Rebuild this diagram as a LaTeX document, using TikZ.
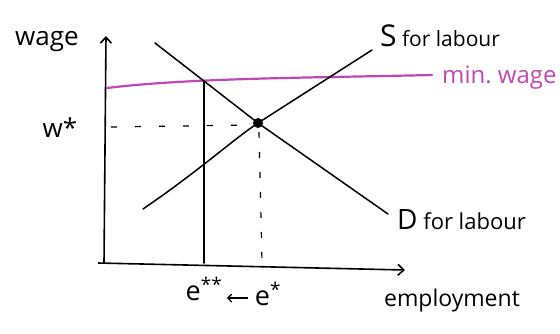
\documentclass[tikz,border=0pt]{standalone}
\usepackage{fontspec}
\setmainfont{Open Sans}
\usetikzlibrary{arrows.meta}
\definecolor{minw}{RGB}{192,72,182}
\tikzset{
  axis/.style={line width=1.6pt,-{Straight Barb[length=6pt,width=11pt,line width=1.6pt]}},
  curve/.style={line width=1.5pt,line cap=round},
  guide/.style={line width=1.2pt,dash pattern=on 6pt off 18pt},
  lbl/.style={font=\fontsize{24}{26}\selectfont, inner sep=0pt},
}
\begin{document}
\begin{tikzpicture}[x=1pt,y=-1pt]
\useasboundingbox (0,0) rectangle (560,333);
% coordinates
\coordinate (O) at (104,263);
\coordinate (Ytop) at (106,36);
\coordinate (Xleft) at (98,263);
\coordinate (Xright) at (405,270);
\coordinate (eq) at (258,123);
\coordinate (D1) at (155,43);
\coordinate (D2) at (388,214);
\coordinate (S1) at (143,209);
\coordinate (S2) at (372,50);
\coordinate (M1) at (107,88);
\coordinate (M2) at (432,75);
\coordinate (Emin) at (204,81);
\coordinate (Ebot) at (204,263);
\coordinate (Wl) at (111,127);
\coordinate (Wr) at (252,125);
\coordinate (Et) at (259,132);
\coordinate (Eb) at (262,262);
% axes
\draw[axis] (O) -- (Ytop);
\draw[axis] (Xleft) -- (Xright);
% min wage
\draw[line width=2.2pt,minw,line cap=round] (M1) .. controls (190,78) and (300,78) .. (M2);
% demand and supply
\draw[curve] (D1) -- (eq) -- (D2);
\draw[curve] (S1) .. controls (200,170) and (230,142) .. (eq) -- (S2);
% e** vertical
\draw[curve] (Emin) -- (Ebot);
% dashed guides
\draw[guide] (Wl) -- (Wr);
\draw[guide,dash pattern=on 6pt off 14pt] (Et) -- (Eb);
% equilibrium
\fill (eq) circle (5pt);
% labels
\node[lbl,font=\fontsize{26}{28}\selectfont] (wage) at (47,42) {wage};
\node[lbl,font=\fontsize{26}{28}\selectfont] (wstar) at (60,128) {w*};
\node[lbl,anchor=west,font=\fontsize{21}{24}\selectfont] (Slab) at (380,36) {{\fontsize{30}{30}\selectfont S}\ for labour};
\node[lbl,anchor=west,text=minw] (mw) at (442,78) {min.\ wage};
\node[lbl,anchor=west,font=\fontsize{22}{24}\selectfont] (Dlab) at (397,220) {{\fontsize{28}{28}\selectfont D}\ for labour};
\node[lbl,font=\fontsize{23}{26}\selectfont] (emp) at (452,301) {employment};
\node[lbl,font=\fontsize{27}{28}\selectfont] (e2) at (204,289) {e\textsuperscript{**}};
\node[lbl,font=\fontsize{27}{28}\selectfont] (e1) at (268,294) {e\textsuperscript{*}};
\draw[line width=1.4pt,-{Straight Barb[length=4pt,width=8pt,line width=1.4pt]}] (e1.west) ++(-7,4) -- ++(-21,0) coordinate (ea);
\end{tikzpicture}
\end{document}
